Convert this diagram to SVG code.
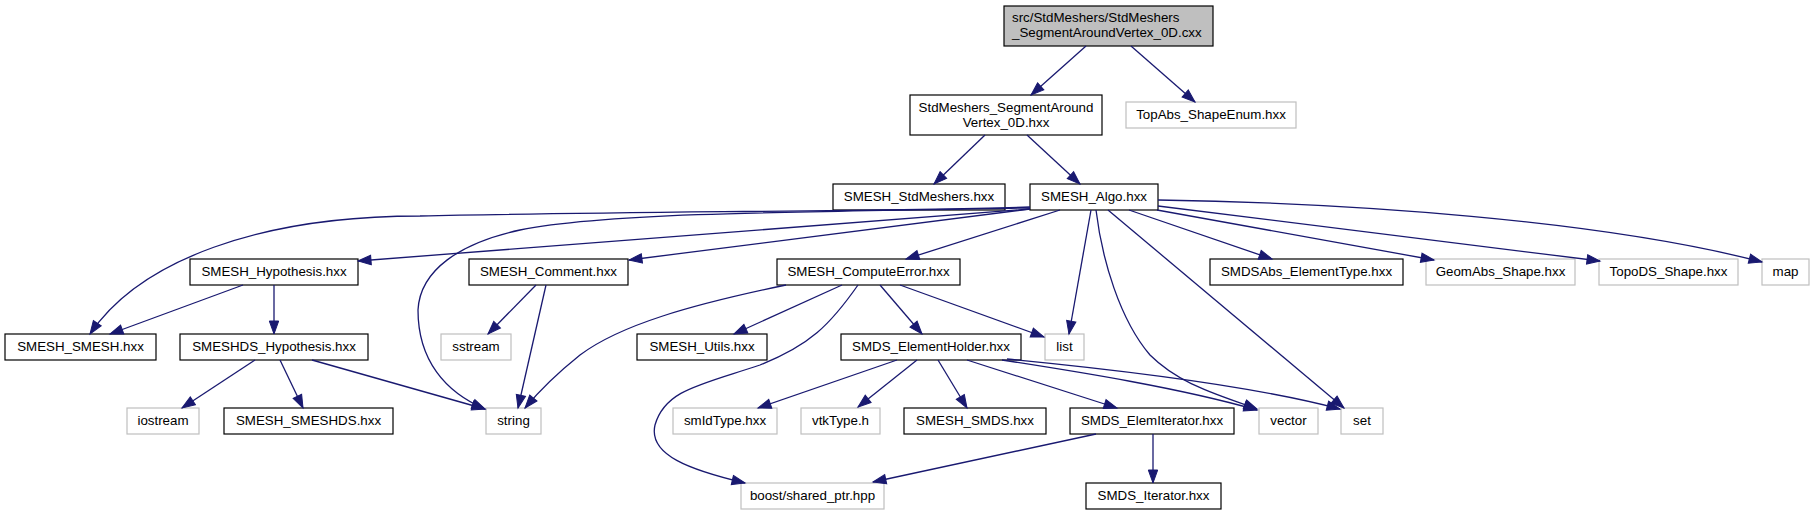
<svg xmlns="http://www.w3.org/2000/svg" width="1815" height="515" viewBox="0 0 1815 515">
<style>
.n rect{fill:#fff;stroke:#000;stroke-width:1.2}
.g rect{fill:#fff;stroke:#bfbfbf;stroke-width:1.2}
.r rect{fill:#bfbfbf;stroke:#000;stroke-width:1.2}
text{font-family:"Liberation Sans",Arial,sans-serif;font-size:13.33px;fill:#000;text-anchor:middle}
.l{text-anchor:start}
#edges path{fill:none;stroke:#191970;stroke-width:1.3;marker-end:url(#ah)}
</style>
<defs>
<marker id="ah" markerUnits="userSpaceOnUse" markerWidth="16" markerHeight="12" viewBox="0 0 16 12" refX="14" refY="6" orient="auto"><path d="M1,1.3 L14,6 L1,10.7 Z" fill="#191970" stroke="#191970" stroke-width="1"/></marker>
</defs>
<rect width="1815" height="515" fill="#fff"/>
<g id="root" class="r"><rect x="1004" y="6" width="209" height="40"/><text class="l" x="1012" y="22">src/StdMeshers/StdMeshers</text><text class="l" x="1012" y="37">_SegmentAroundVertex_0D.cxx</text></g>
<g id="segaround" class="n"><rect x="910" y="95" width="192" height="40"/><text x="1006" y="112">StdMeshers_SegmentAround</text><text x="1006" y="127">Vertex_0D.hxx</text></g>
<g id="topabs" class="g"><rect x="1126" y="102" width="170" height="26"/><text x="1211" y="119">TopAbs_ShapeEnum.hxx</text></g>
<g id="stdmeshers" class="n"><rect x="833" y="184" width="172" height="26"/><text x="919" y="201">SMESH_StdMeshers.hxx</text></g>
<g id="algo" class="n"><rect x="1030" y="184" width="128" height="26"/><text x="1094" y="201">SMESH_Algo.hxx</text></g>
<g id="hyp" class="n"><rect x="190" y="259" width="168" height="26"/><text x="274" y="276">SMESH_Hypothesis.hxx</text></g>
<g id="comment" class="n"><rect x="469" y="259" width="159" height="26"/><text x="548.5" y="276">SMESH_Comment.hxx</text></g>
<g id="computeerror" class="n"><rect x="777" y="259" width="183" height="26"/><text x="868.5" y="276">SMESH_ComputeError.hxx</text></g>
<g id="smdsabs" class="n"><rect x="1210" y="259" width="193" height="26"/><text x="1306.5" y="276">SMDSAbs_ElementType.hxx</text></g>
<g id="geomabs" class="g"><rect x="1426" y="259" width="149" height="26"/><text x="1500.5" y="276">GeomAbs_Shape.hxx</text></g>
<g id="topods" class="g"><rect x="1599" y="259" width="139" height="26"/><text x="1668.5" y="276">TopoDS_Shape.hxx</text></g>
<g id="map" class="g"><rect x="1762" y="259" width="47" height="26"/><text x="1785.5" y="276">map</text></g>
<g id="smesh" class="n"><rect x="5" y="334" width="151" height="26"/><text x="80.5" y="351">SMESH_SMESH.hxx</text></g>
<g id="smeshdshyp" class="n"><rect x="180" y="334" width="188" height="26"/><text x="274" y="351">SMESHDS_Hypothesis.hxx</text></g>
<g id="sstream" class="g"><rect x="441" y="334" width="70" height="26"/><text x="476" y="351">sstream</text></g>
<g id="utils" class="n"><rect x="637" y="334" width="130" height="26"/><text x="702" y="351">SMESH_Utils.hxx</text></g>
<g id="elemholder" class="n"><rect x="841" y="334" width="180" height="26"/><text x="931" y="351">SMDS_ElementHolder.hxx</text></g>
<g id="list" class="g"><rect x="1045" y="334" width="39" height="26"/><text x="1064.5" y="351">list</text></g>
<g id="iostream" class="g"><rect x="127" y="408" width="72" height="26"/><text x="163" y="425">iostream</text></g>
<g id="smeshds" class="n"><rect x="224" y="408" width="169" height="26"/><text x="308.5" y="425">SMESH_SMESHDS.hxx</text></g>
<g id="string" class="g"><rect x="486" y="408" width="55" height="26"/><text x="513.5" y="425">string</text></g>
<g id="smidtype" class="g"><rect x="673" y="408" width="104" height="26"/><text x="725" y="425">smIdType.hxx</text></g>
<g id="vtktype" class="g"><rect x="801" y="408" width="79" height="26"/><text x="840.5" y="425">vtkType.h</text></g>
<g id="smds" class="n"><rect x="904" y="408" width="142" height="26"/><text x="975" y="425">SMESH_SMDS.hxx</text></g>
<g id="elemiter" class="n"><rect x="1070" y="408" width="164" height="26"/><text x="1152" y="425">SMDS_ElemIterator.hxx</text></g>
<g id="vector" class="g"><rect x="1259" y="408" width="59" height="26"/><text x="1288.5" y="425">vector</text></g>
<g id="set" class="g"><rect x="1341" y="408" width="42" height="26"/><text x="1362" y="425">set</text></g>
<g id="boost" class="g"><rect x="741" y="483" width="143" height="26"/><text x="812.5" y="500">boost/shared_ptr.hpp</text></g>
<g id="iterator" class="n"><rect x="1086" y="483" width="135" height="26"/><text x="1153.5" y="500">SMDS_Iterator.hxx</text></g>
<g id="edges">
<path d="M1086,46 L1031,95"/>
<path d="M1131,46 L1195,102"/>
<path d="M985,135 L934,184"/>
<path d="M1027,135 L1080,184"/>
<path d="M1030,209 L358,261"/>
<path d="M1030,207 C900,211 600,212 420,216 C260,216 140,260 90,334"/>
<path d="M1030,209 L629,260"/>
<path d="M1060,210 L906,259"/>
<path d="M1030,208 C760,212 600,214 520,230 C460,243 420,270 418,310 C418,360 445,392 485,409"/>
<path d="M1091,210 L1069,334"/>
<path d="M1096,210 C1102,260 1120,320 1150,355 C1180,385 1220,395 1257,409"/>
<path d="M1108,210 L1344,408"/>
<path d="M1129,210 L1272,259"/>
<path d="M1157,210 L1434,260"/>
<path d="M1158,206 L1600,261"/>
<path d="M1158,200 C1350,203 1600,220 1762,262"/>
<path d="M243,285 L110,334"/>
<path d="M274,285 L274,334"/>
<path d="M536,285 L488,334"/>
<path d="M546,285 L518,408"/>
<path d="M786,285 C690,305 620,325 580,355 C555,375 540,390 525,408"/>
<path d="M842,285 L734,334"/>
<path d="M858,285 C830,325 810,345 760,365 C700,385 665,390 655,425 C648,455 690,470 745,483"/>
<path d="M880,285 L922,334"/>
<path d="M900,285 L1044,337"/>
<path d="M255,360 L182,408"/>
<path d="M280,360 L303,408"/>
<path d="M312,360 L485,409"/>
<path d="M897,360 L758,408"/>
<path d="M917,360 L858,407"/>
<path d="M938,360 L967,408"/>
<path d="M967,360 L1117,408"/>
<path d="M1002,360 C1080,372 1180,388 1257,410"/>
<path d="M1007,359 C1100,368 1250,385 1340,409"/>
<path d="M1096,434 L873,482"/>
<path d="M1153,434 L1153,483"/>
</g>
</svg>
